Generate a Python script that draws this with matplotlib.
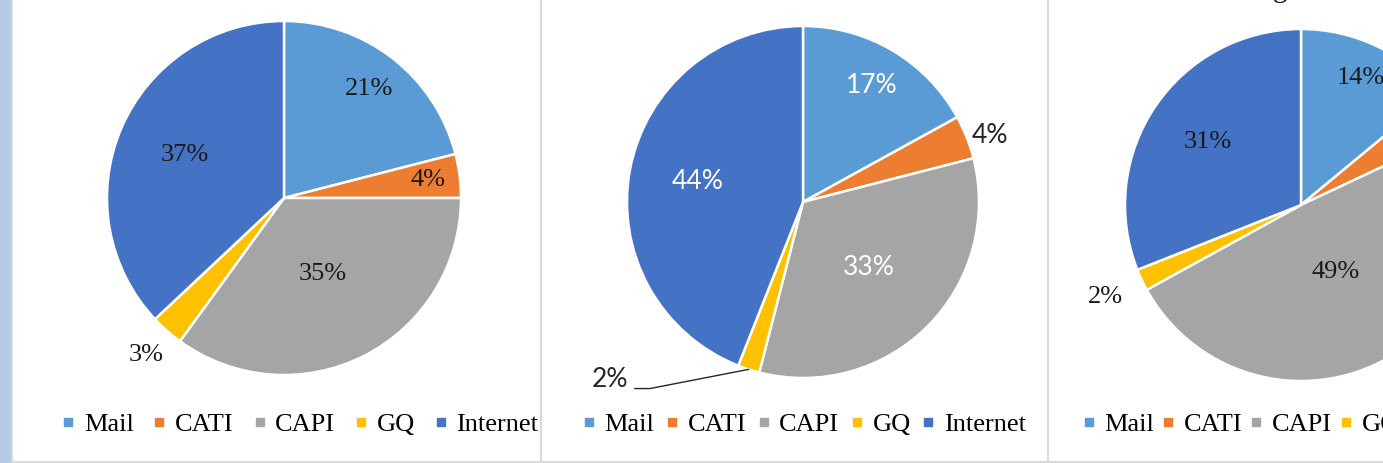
import numpy as np
import matplotlib
matplotlib.use("Agg")
import matplotlib.pyplot as plt
from matplotlib.lines import Line2D
from matplotlib.patches import Rectangle

# ── data ─────────────────────────────────────────────────────────────────────
modes = ["Mail", "CATI", "CAPI", "GQ", "Internet"]
colors = ["#5B9BD5", "#ED7D31", "#A5A5A5", "#FFC000", "#4472C4"]

shares_1 = [21, 4, 35, 3, 37]
shares_2 = [17, 4, 33, 2, 44]
shares_3 = [14, 4, 49, 2, 31]

# ── figure in pixel units ────────────────────────────────────────────────────
W, H = 1383, 463
fig = plt.figure(figsize=(W / 100, H / 100), dpi=100)
fig.patch.set_facecolor("white")


def px_axes(x0, y0, w, h, **kw):
    # pixel box (top-left origin) -> figure fraction axes
    return fig.add_axes([x0 / W, 1 - (y0 + h) / H, w / W, h / H], **kw)


# background: left blue strip + panel separators
bg = px_axes(0, 0, W, H)
bg.set_xlim(0, W)
bg.set_ylim(H, 0)
bg.axis("off")
bg.add_patch(Rectangle((0, 0), 11, H, color="#B7CBE6", lw=0))
bg.plot([12, 12], [0, H], color="#D9D9D9", lw=1.5)
bg.plot([540.5, 540.5], [0, H], color="#D9D9D9", lw=1.5)
bg.plot([1047.5, 1047.5], [0, H], color="#D9D9D9", lw=1.5)
bg.plot([12, W], [461.5, 461.5], color="#D9D9D9", lw=1.5)

serif = "Liberation Serif"
sans = ["Lato", "DejaVu Sans"]
ink = "#1a1a1a"


def draw_pie(cx, cy, r, vals, dists, font, txtcolors, fsize):
    ax = px_axes(cx - r, cy - r, 2 * r, 2 * r)
    ax.axis("off")
    wedges, _ = ax.pie(vals, colors=colors, startangle=90, counterclock=False,
                       radius=1, wedgeprops=dict(edgecolor="white", linewidth=1.8))
    ax.set_xlim(-1, 1)
    ax.set_ylim(-1, 1)
    pos = []
    for w, v, d, c in zip(wedges, vals, dists, txtcolors):
        mid = np.deg2rad((w.theta1 + w.theta2) / 2)
        pos.append(mid)
        if d is None:      # label falls outside the visible crop
            continue
        ax.text(d * np.cos(mid), d * np.sin(mid), f"{v}%", ha="center",
                va="center", color=c, fontsize=fsize, family=font)
    return ax, pos


# panel 1
ax1, _ = draw_pie(284, 198, 177, shares_1, [0.78, 0.82, 0.48, 1.18, 0.61],
                  serif, [ink] * 5, 19)

# panel 2 (sans labels, white inside)
ax2, pos2 = draw_pie(803, 202, 176, shares_2, [0.77, 1.14, 0.53, 1.45, 0.61],
                     sans, ["white", "#262626", "white", "#262626", "white"], 19)
# move GQ label and draw its leader line
for t in ax2.texts:
    if t.get_text() == "2%":
        t.set_position((-1.097, -1.011))
    if t.get_text() == "4%":
        x, y = t.get_position()
        t.set_position((x, y - 0.04))
mid = pos2[3]
ex, ey = np.cos(mid), np.sin(mid)
ax2.plot([-0.955, -0.87, ex], [-1.06, -1.06, ey], color="#262626", lw=1.0,
         clip_on=False)

# panel 3 (cut off on the right)
ax3, _ = draw_pie(1301, 205, 176, shares_3, [0.80, None, 0.43, 1.23, 0.64],
                  serif, [ink] * 5, 19)

# partial title visible at top of panel 3
bg.text(1280, -3, "g", ha="center", va="baseline", family=serif, fontsize=21,
        color=ink)

# ── legends ──────────────────────────────────────────────────────────────────
handles = [Line2D([], [], ls="none", marker="s", markersize=6,
                  markerfacecolor=c, markeredgecolor=c) for c in colors]


def add_legend(x, y, colsp, loc="center"):
    fig.legend(handles, modes, loc=loc, bbox_to_anchor=(x / W, 1 - y / H),
               ncol=5, frameon=False, handlelength=0.5, handletextpad=0.35,
               columnspacing=colsp, borderaxespad=0, borderpad=0,
               prop=dict(family=serif, size=19))


add_legend(300, 424, 0.72)
add_legend(804, 424, 0.41)
add_legend(1082, 424, 0.27, loc="center left")

fig.savefig("out.png", dpi=100)
